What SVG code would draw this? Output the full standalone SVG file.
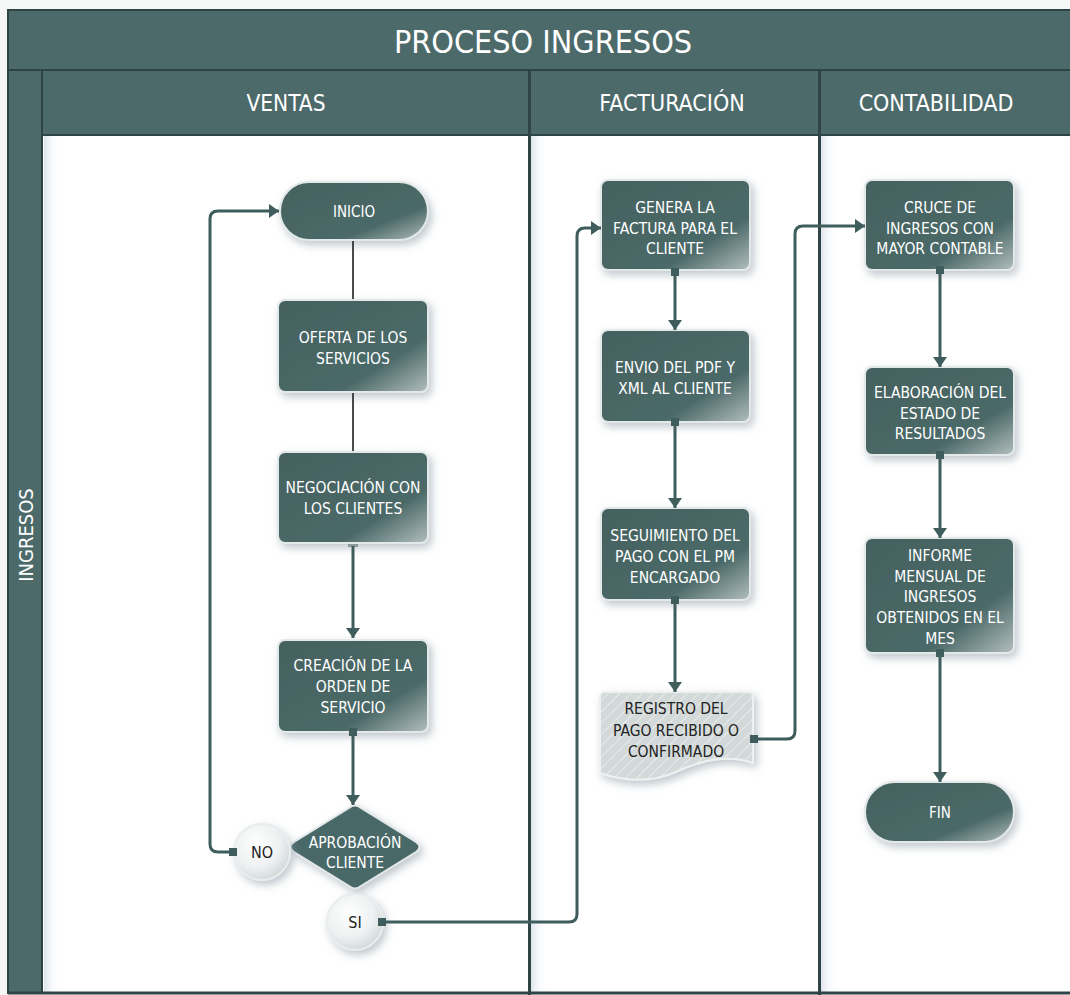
<svg xmlns="http://www.w3.org/2000/svg" width="1070" height="995" viewBox="0 0 1070 995">
<defs>
<style>
.hdr{fill:#4c6a6a;stroke:#2e4343;stroke-width:2}
.t{font-family:"Liberation Sans Narrow","DejaVu Sans Condensed","Liberation Sans",sans-serif;fill:#fff;text-anchor:middle}
.nt{font-size:15.5px}
.dk{fill:#222}
.node{fill:url(#ng);stroke:#e3e8e8;stroke-width:2;filter:url(#sh)}
.con{fill:none;stroke:#3f5d5d;stroke-width:3}
.plain{fill:none;stroke:#1e1e1e;stroke-width:1.6}
.sq{fill:#3f5d5d}
.div{stroke:#2f4444;stroke-width:3}
</style>
<linearGradient id="ng" x1="0" y1="0" x2="1" y2="1">
<stop offset="0" stop-color="#44615f"/>
<stop offset="0.7" stop-color="#4b6968"/>
<stop offset="1" stop-color="#b3bebe"/>
</linearGradient>
<radialGradient id="cg" cx="0.4" cy="0.35" r="0.7">
<stop offset="0" stop-color="#ffffff"/>
<stop offset="0.6" stop-color="#eef1f1"/>
<stop offset="1" stop-color="#cfd6d6"/>
</radialGradient>
<linearGradient id="lane" x1="0" y1="0" x2="1" y2="0">
<stop offset="0" stop-color="#dfe5ec"/>
<stop offset="1" stop-color="#ffffff" stop-opacity="0"/>
</linearGradient>
<pattern id="hatch" width="8" height="8" patternUnits="userSpaceOnUse" patternTransform="rotate(45)">
<rect width="8" height="8" fill="#d3d9d9"/>
<line x1="0" y1="0" x2="0" y2="8" stroke="#e6eaea" stroke-width="2"/>
</pattern>
<filter id="sh" x="-20%" y="-20%" width="150%" height="150%">
<feDropShadow dx="3" dy="4" stdDeviation="4" flood-color="#8a9aa6" flood-opacity="0.55"/>
</filter>
<marker id="ar" markerUnits="userSpaceOnUse" markerWidth="16" markerHeight="14" refX="10" refY="7" orient="auto">
<path d="M0,0 L10,7 L0,14 Z" fill="#3f5d5d"/>
</marker>
</defs>
<rect width="1070" height="995" fill="#f5f7f7"/>
<g id="pool">
<rect x="8" y="10" width="1064" height="983" fill="#ffffff" stroke="#2f4444" stroke-width="2"/>
<rect x="44" y="135" width="16" height="858" fill="url(#lane)"/>
<rect x="531" y="135" width="16" height="858" fill="url(#lane)"/>
<rect x="821" y="135" width="16" height="858" fill="url(#lane)"/>
<rect class="hdr" x="8" y="10" width="1064" height="60"/>
<text class="t" x="543" y="53" font-size="32">PROCESO INGRESOS</text>
<rect class="hdr" x="8" y="70" width="34" height="923"/>
<text class="t" font-size="20" transform="translate(33,535) rotate(-90)">INGRESOS</text>
<rect class="hdr" x="42" y="70" width="487" height="65"/>
<text class="t" x="286" y="111" font-size="22.5">VENTAS</text>
<rect class="hdr" x="530" y="70" width="290" height="65"/>
<text class="t" x="672" y="111" font-size="23">FACTURACIÓN</text>
<rect class="hdr" x="820" y="70" width="252" height="65"/>
<text class="t" x="936" y="111" font-size="23">CONTABILIDAD</text>
<line class="div" x1="529.5" y1="70" x2="529.5" y2="995"/>
<line class="div" x1="819.5" y1="70" x2="819.5" y2="995"/>
<line class="div" x1="8" y1="993" x2="1070" y2="993"/>
</g>
<g id="inicio">
<rect class="node" x="280" y="182" width="148" height="58" rx="29"/>
<text class="t" x="354" y="217" font-size="15">INICIO</text>
</g>
<g id="oferta">
<rect class="node" x="278" y="300" width="150" height="92" rx="7"/>
<text class="t nt"><tspan x="353" y="343">OFERTA DE LOS</tspan><tspan x="353" y="364">SERVICIOS</tspan></text>
</g>
<g id="negociacion">
<rect class="node" x="278" y="452" width="150" height="91" rx="7"/>
<text class="t nt"><tspan x="353" y="493">NEGOCIACIÓN CON</tspan><tspan x="353" y="514">LOS CLIENTES</tspan></text>
</g>
<g id="creacion">
<rect class="node" x="278" y="640" width="150" height="92" rx="7"/>
<text class="t nt"><tspan x="353" y="671">CREACIÓN DE LA</tspan><tspan x="353" y="692">ORDEN DE</tspan><tspan x="353" y="713">SERVICIO</tspan></text>
</g>
<g id="aprobacion">
<path class="node" d="M349 808 Q355 803 361 808 L416 842 Q423 847 416 852 L361 886 Q355 891 349 886 L294 852 Q287 847 294 842 Z" style="fill:#4a6868"/>
<text class="t nt"><tspan x="355" y="848">APROBACIÓN</tspan><tspan x="355" y="868">CLIENTE</tspan></text>
</g>
<g id="no">
<circle cx="262" cy="852" r="28" fill="url(#cg)" stroke="#e9eded" stroke-width="2" filter="url(#sh)"/>
<text class="t dk" x="262" y="858" font-size="16">NO</text>
</g>
<g id="si">
<circle cx="355" cy="922" r="28" fill="url(#cg)" stroke="#e9eded" stroke-width="2" filter="url(#sh)"/>
<text class="t dk" x="355" y="928" font-size="16">SI</text>
</g>
<g id="genera">
<rect class="node" x="601" y="180" width="149" height="90" rx="7"/>
<text class="t nt"><tspan x="675" y="213">GENERA LA</tspan><tspan x="675" y="234">FACTURA PARA EL</tspan><tspan x="675" y="254">CLIENTE</tspan></text>
</g>
<g id="envio">
<rect class="node" x="601" y="330" width="149" height="92" rx="7"/>
<text class="t nt"><tspan x="675" y="373">ENVIO DEL PDF Y</tspan><tspan x="675" y="394">XML AL CLIENTE</tspan></text>
</g>
<g id="seguimiento">
<rect class="node" x="601" y="508" width="149" height="92" rx="7"/>
<text class="t nt"><tspan x="675" y="541">SEGUIMIENTO DEL</tspan><tspan x="675" y="562">PAGO CON EL PM</tspan><tspan x="675" y="583">ENCARGADO</tspan></text>
</g>
<g id="registro">
<path d="M605 692 H748 Q753 692 753 697 V763 C728 754 703 760 678 771 C652 783 626 782 600 773 V697 Q600 692 605 692 Z" fill="url(#hatch)" stroke="#eef1f1" stroke-width="2" filter="url(#sh)"/>
<text class="t nt dk"><tspan x="676" y="714">REGISTRO DEL</tspan><tspan x="676" y="736">PAGO RECIBIDO O</tspan><tspan x="676" y="757">CONFIRMADO</tspan></text>
</g>
<g id="cruce">
<rect class="node" x="865" y="180" width="149" height="90" rx="7"/>
<text class="t nt"><tspan x="940" y="213">CRUCE DE</tspan><tspan x="940" y="234">INGRESOS CON</tspan><tspan x="940" y="254">MAYOR CONTABLE</tspan></text>
</g>
<g id="elaboracion">
<rect class="node" x="865" y="367" width="149" height="88" rx="7"/>
<text class="t nt"><tspan x="940" y="398">ELABORACIÓN DEL</tspan><tspan x="940" y="419">ESTADO DE</tspan><tspan x="940" y="439">RESULTADOS</tspan></text>
</g>
<g id="informe">
<rect class="node" x="865" y="538" width="149" height="115" rx="7"/>
<text class="t nt"><tspan x="940" y="561">INFORME</tspan><tspan x="940" y="582">MENSUAL DE</tspan><tspan x="940" y="602">INGRESOS</tspan><tspan x="940" y="623">OBTENIDOS EN EL</tspan><tspan x="940" y="644">MES</tspan></text>
</g>
<g id="fin">
<rect class="node" x="865" y="782" width="149" height="60" rx="30"/>
<text class="t" x="940" y="818" font-size="15">FIN</text>
</g>
<g id="connectors">
<line class="plain" x1="353" y1="241" x2="353" y2="299"/>
<line class="plain" x1="353" y1="393" x2="353" y2="451"/>
<rect x="348" y="544" width="10" height="3" fill="#8a9a9a"/>
<line class="con" x1="353" y1="546" x2="353" y2="638" marker-end="url(#ar)"/>
<rect class="sq" x="349" y="728" width="8" height="8"/>
<line class="con" x1="353" y1="735" x2="353" y2="805" marker-end="url(#ar)"/>
<rect class="sq" x="229" y="848" width="8" height="8"/>
<path class="con" d="M233 852 H218 Q210 852 210 844 V219 Q210 211 218 211 H279" marker-end="url(#ar)"/>
<rect class="sq" x="378" y="918" width="8" height="8"/>
<path class="con" d="M382 922 H569 Q577 922 577 914 V236 Q577 228 585 228 H601" marker-end="url(#ar)"/>
<rect class="sq" x="671" y="268" width="8" height="8"/>
<line class="con" x1="675" y1="275" x2="675" y2="330" marker-end="url(#ar)"/>
<rect class="sq" x="671" y="418" width="8" height="8"/>
<line class="con" x1="675" y1="425" x2="675" y2="508" marker-end="url(#ar)"/>
<rect class="sq" x="671" y="596" width="8" height="8"/>
<line class="con" x1="675" y1="603" x2="675" y2="692" marker-end="url(#ar)"/>
<rect class="sq" x="750" y="735" width="8" height="8"/>
<path class="con" d="M754 739 H787 Q795 739 795 731 V234 Q795 226 803 226 H865" marker-end="url(#ar)"/>
<rect class="sq" x="936" y="266" width="8" height="8"/>
<line class="con" x1="940" y1="273" x2="940" y2="367" marker-end="url(#ar)"/>
<rect class="sq" x="936" y="451" width="8" height="8"/>
<line class="con" x1="940" y1="458" x2="940" y2="538" marker-end="url(#ar)"/>
<rect class="sq" x="936" y="649" width="8" height="8"/>
<line class="con" x1="940" y1="656" x2="940" y2="782" marker-end="url(#ar)"/>
</g>
</svg>
